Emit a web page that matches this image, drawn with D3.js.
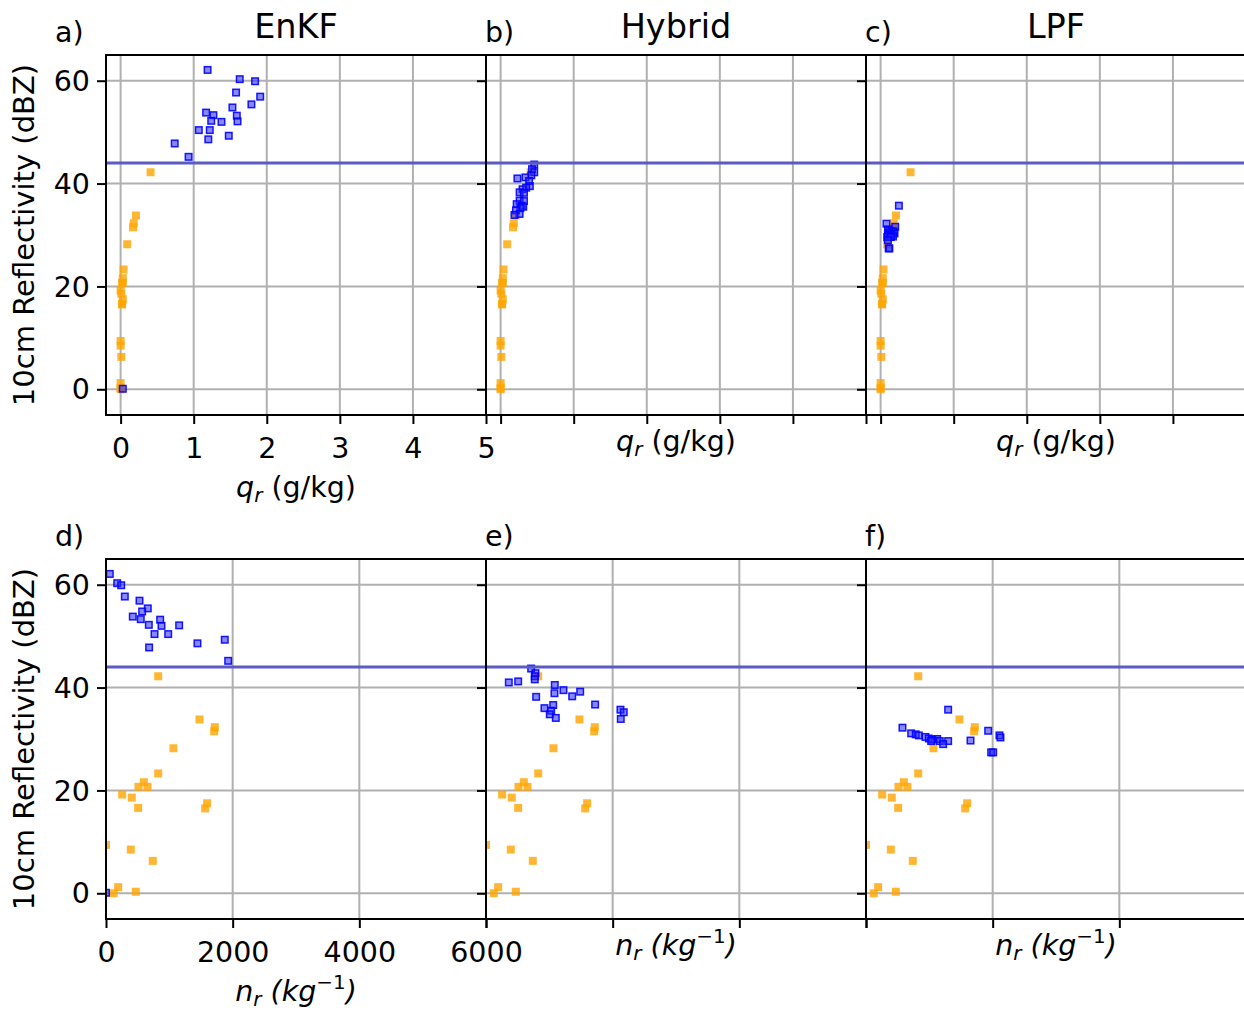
<!DOCTYPE html>
<html>
<head>
<meta charset="utf-8">
<script src="https://cdn.jsdelivr.net/npm/d3@7"></script>
<style>
  body { margin: 0; background: #ffffff; }
  svg { display: block; }
</style>
</head>
<body>
<svg id="fig" width="1244" height="1012"></svg>
<script>
// Filter methods, one per column
const methods = ["EnKF", "Hybrid", "LPF"];
const panelLetters = [["a)", "b)", "c)"], ["d)", "e)", "f)"]];

// Axis ticks
const zTicks = [0, 20, 40, 60];
const qTicks = [0, 1, 2, 3, 4, 5];
const nTicks = [0, 2000, 4000, 6000];
const zThreshold = 44;

// Reference points (orange), identical in every column: reflectivity, q_r, n_r
const refZ = [42.2, 33.8, 32.3, 31.5, 28.2, 23.3, 21.6, 20.7, 20.7, 19.2, 18.6, 17.5, 16.5, 16.6, 9.4, 8.5, 6.3, 1.2, 0.0, 0.3];
const refQ = [0.41, 0.21, 0.18, 0.17, 0.09, 0.04, 0.03, 0.03, 0.02, 0.00, 0.01, 0.03, 0.02, 0.02, 0.00, 0.00, 0.01, 0.00, 0.00, 0.00];
const refN = [824, 1476, 1718, 1708, 1065, 824, 597, 655, 513, 255, 407, 1597, 1566, 508, 0, 392, 739, 192, 123, 471];

// EnKF points (blue)
const enkfZ = [62.1, 60.3, 59.9, 57.7, 56.9, 55.4, 54.8, 53.8, 53.3, 53.2, 52.2, 52.0, 52.1, 50.4, 50.4, 49.3, 48.6, 47.8, 45.2, 0.1];
const enkfQ = [1.19, 1.63, 1.84, 1.58, 1.91, 1.79, 1.53, 1.17, 1.27, 1.59, 1.24, 1.38, 1.60, 1.07, 1.22, 1.48, 1.20, 0.74, 0.93, 0.03];
const enkfN = [60, 177, 240, 297, 529, 660, 571, 423, 549, 855, 676, 876, 1155, 766, 982, 1875, 1444, 681, 1929, 0];

// Hybrid points (blue)
const hybridZ = [43.7, 42.8, 42.2, 41.6, 41.2, 41.0, 40.5, 39.5, 39.2, 38.9, 38.3, 38.2, 36.7, 36.6, 36.0, 35.7, 35.5, 35.2, 34.8, 34.1, 33.9];
const hybridQ = [0.46, 0.43, 0.46, 0.42, 0.34, 0.23, 0.39, 0.40, 0.35, 0.30, 0.26, 0.32, 0.26, 0.32, 0.22, 0.29, 0.31, 0.27, 0.21, 0.26, 0.19];
const hybridN = [713, 781, 770, 770, 508, 360, 1086, 1223, 1487, 1081, 1361, 792, 1723, 1061, 923, 2123, 1029, 2175, 1007, 1102, 2128];

// LPF points (blue)
const lpfZ = [35.7, 32.2, 31.6, 31.1, 30.9, 30.7, 30.7, 30.4, 30.3, 30.1, 30.0, 29.9, 29.7, 29.6, 29.6, 29.6, 29.0, 27.4, 27.4];
const lpfQ = [0.25, 0.08, 0.20, 0.10, 0.12, 0.18, 0.15, 0.11, 0.19, 0.13, 0.15, 0.10, 0.17, 0.12, 0.09, 0.14, 0.10, 0.11, 0.12];
const lpfN = [1297, 576, 1929, 713, 786, 834, 2107, 939, 2123, 992, 1124, 1045, 1650, 1029, 1165, 1297, 1218, 1976, 2008];

const series = {
  EnKF:   { z: enkfZ,   q: enkfQ,   n: enkfN },
  Hybrid: { z: hybridZ, q: hybridQ, n: hybridN },
  LPF:    { z: lpfZ,    q: lpfQ,    n: lpfN }
};

const FONT = "DejaVu Sans, Verdana, sans-serif";
const FS = 28.5;
const lefts = [106, 486, 866];
const tops = [55, 559];
const W = 380, H = 360;
const MS = 8; // marker size

const y = d3.scaleLinear().domain([-5, 65]).range([H, 0]);
const xq = d3.scaleLinear().domain([-0.2, 5]).range([0, W]);
const xn = d3.scaleLinear().domain([0, 6000]).range([0, W]);

const rows = [
  { x: xq, ticks: qTicks, key: "q", ref: refQ },
  { x: xn, ticks: nTicks, key: "n", ref: refN }
];

const svg = d3.select("#fig").style("font-family", FONT);

function xLabel(sel, row) {
  const t = sel.append("text")
    .attr("text-anchor", "middle")
    .attr("font-size", FS)
    .attr("fill", "#000");
  if (row === 0) {
    t.append("tspan").attr("font-style", "italic").text("q");
    t.append("tspan").attr("font-style", "italic").attr("font-size", FS * 0.7).attr("dy", 5).text("r");
    t.append("tspan").attr("dy", -5).text(" (g/kg)");
  } else {
    t.append("tspan").attr("font-style", "italic").text("n");
    t.append("tspan").attr("font-style", "italic").attr("font-size", FS * 0.7).attr("dy", 5).text("r");
    t.append("tspan").attr("font-style", "italic").attr("dy", -5).text(" (kg");
    t.append("tspan").attr("font-size", FS * 0.7).attr("dy", -12).text("\u22121");
    t.append("tspan").attr("font-style", "italic").attr("dy", 12).text(")");
  }
  return t;
}

rows.forEach((row, r) => {
  methods.forEach((m, c) => {
    const g = svg.append("g").attr("transform", `translate(${lefts[c]},${tops[r]})`);
    const clipId = `clip-${r}-${c}`;
    g.append("clipPath").attr("id", clipId)
      .append("rect").attr("width", W).attr("height", H);

    // grid
    const grid = g.append("g").attr("stroke", "#b0b0b0").attr("stroke-width", 2);
    grid.selectAll("line.gx").data(row.ticks).join("line")
      .attr("x1", d => row.x(d)).attr("x2", d => row.x(d))
      .attr("y1", 0).attr("y2", H);
    grid.selectAll("line.gy").data(zTicks).join("line")
      .attr("x1", 0).attr("x2", W)
      .attr("y1", d => y(d)).attr("y2", d => y(d));

    const plot = g.append("g").attr("clip-path", `url(#${clipId})`);

    // reference points
    const refPts = refZ.map((z, i) => ({ x: row.ref[i], z }));
    plot.append("g").selectAll("rect").data(refPts).join("rect")
      .attr("x", d => row.x(d.x) - MS / 2)
      .attr("y", d => y(d.z) - MS / 2)
      .attr("width", MS).attr("height", MS)
      .attr("fill", "#ffa500").attr("fill-opacity", 0.8);

    // filter points
    const s = series[m];
    const pts = s.z.map((z, i) => ({ x: s[row.key][i], z }));
    plot.append("g").selectAll("rect").data(pts).join("rect")
      .attr("x", d => row.x(d.x) - MS / 2 + 0.75)
      .attr("y", d => y(d.z) - MS / 2 + 0.75)
      .attr("width", MS - 1.5).attr("height", MS - 1.5)
      .attr("fill", "rgba(40,40,255,0.55)")
      .attr("stroke", "rgba(0,0,255,0.9)").attr("stroke-width", 1.5);

    // threshold line
    plot.append("line")
      .attr("x1", 0).attr("x2", W)
      .attr("y1", y(zThreshold)).attr("y2", y(zThreshold))
      .attr("stroke", "#5b5bc6").attr("stroke-width", 3.2);

    // axes
    const ax = d3.axisBottom(row.x).tickValues(row.ticks).tickSize(9).tickPadding(14)
      .tickFormat(c === 0 ? d3.format("d") : () => "");
    const ay = d3.axisLeft(y).tickValues(zTicks).tickSize(9).tickPadding(7)
      .tickFormat(c === 0 ? d3.format("d") : () => "");

    const gx = g.append("g").attr("transform", `translate(0,${H})`).call(ax);
    const gy = g.append("g").call(ay);
    [gx, gy].forEach(a => {
      a.select(".domain").remove();
      a.selectAll(".tick line").attr("stroke", "#000").attr("stroke-width", 2);
      a.selectAll(".tick text").attr("font-size", FS).attr("font-family", FONT).attr("fill", "#000");
    });
    gy.selectAll(".tick text").attr("dy", "0.34em");

    // frame
    g.append("rect").attr("width", W).attr("height", H)
      .attr("fill", "none").attr("stroke", "#000").attr("stroke-width", 2);

    // x label
    const lbl = xLabel(svg, r);
    const cx = lefts[c] + W / 2;
    const by = tops[r] + H + (c === 0 ? 82 : 36);
    lbl.attr("x", cx).attr("y", by);

    // panel letter
    svg.append("text")
      .attr("x", c === 0 ? 55 : lefts[c] - 1)
      .attr("y", tops[r] - 13)
      .attr("font-size", FS)
      .attr("fill", "#000")
      .text(panelLetters[r][c]);

    // column title
    if (r === 0) {
      svg.append("text")
        .attr("x", cx).attr("y", 38)
        .attr("text-anchor", "middle")
        .attr("font-size", 33.5)
        .attr("fill", "#000")
        .text(m);
    }
  });

  // y label
  svg.append("text")
    .attr("transform", `translate(34,${tops[r] + H / 2}) rotate(-90)`)
    .attr("text-anchor", "middle")
    .attr("font-size", 29)
    .attr("fill", "#000")
    .text("10cm Reflectivity (dBZ)");
});
</script>
</body>
</html>
